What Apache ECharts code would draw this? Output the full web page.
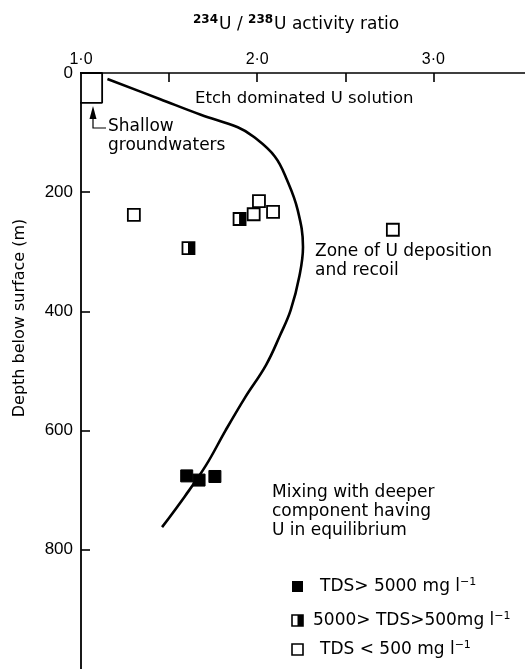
<!DOCTYPE html>
<html><head><meta charset="utf-8">
<script src="https://cdn.jsdelivr.net/npm/echarts@6/dist/echarts.min.js"></script>
<style>html,body{margin:0;padding:0;background:#fff}#c{width:525px;height:669px}</style>
</head><body><div id="c"></div>
<script>
var xTicks = [1.0, 2.0, 3.0];
var xMinorTicks = [1.5, 2.0, 2.5, 3.0];
var yTicks = [0, 200, 400, 600, 800];
var yTickMarks = [200, 400, 600, 800];
// curve: [ratio, depth]
var curveRatio = [1.15, 1.45, 1.68, 1.89, 1.98, 2.10, 2.17, 2.23, 2.26, 2.24, 2.19, 2.13, 2.05, 1.93, 1.82, 1.71, 1.59, 1.46];
var curveDepth = [10, 44, 70, 91, 107, 140, 180, 230, 292, 340, 398, 440, 490, 545, 600, 658, 710, 762];
// shallow groundwater box
var boxRatio = [0.955, 1.12, 1.12, 0.955, 0.955];
var boxDepth = [0, 0, 50, 50, 0];
// TDS < 500
var lowRatio = [1.30, 2.01, 1.98, 2.09, 2.77];
var lowDepth = [238, 215, 237, 233, 263];
// 5000 > TDS > 500
var midRatio = [1.90, 1.61];
var midDepth = [245, 294];
// TDS > 5000
var highRatio = [1.60, 1.67, 1.76];
var highDepth = [676, 683, 677];

function zip(a, b) { return a.map(function (v, i) { return [v, b[i]]; }); }

var chart = echarts.init(document.getElementById('c'), null, {renderer: 'canvas'});
var F = 'DejaVu Sans, Liberation Sans, sans-serif';
var FL = 'Liberation Sans, Arial, sans-serif';
var sq = 12;

function halfRender(params, api) {
  var p = api.coord([api.value(0), api.value(1)]);
  var s = 12;
  return {type: 'group', children: [
    {type: 'rect', shape: {x: p[0] - s / 2, y: p[1] - s / 2, width: s, height: s}, style: {fill: '#fff', stroke: '#000', lineWidth: 1.8}},
    {type: 'rect', shape: {x: p[0] - 0.5, y: p[1] - s / 2, width: s / 2 + 0.5, height: s}, style: {fill: '#000'}}
  ]};
}
var supR = {fontSize: 11, fontFamily: F, verticalAlign: 'top', padding: [0, 0, 9, 0]};
var supB = {fontSize: 12, fontFamily: F, fontWeight: 'bold', verticalAlign: 'top', padding: [0, 1, 9, 0]};
var nR = {fontSize: 17, fontFamily: F};

chart.setOption({
  animation: false,
  grid: {left: 81, top: 73, right: 0, bottom: 0},
  xAxis: {
    type: 'value', position: 'top', min: 1.0, max: 3.52,
    axisLine: {show: true, lineStyle: {color: '#000', width: 1.6}},
    axisTick: {show: true, inside: true, length: 9, customValues: xMinorTicks, lineStyle: {color: '#000', width: 1.6}},
    axisLabel: {show: true, margin: 5, color: '#000', fontFamily: FL, fontSize: 16, customValues: xTicks,
      formatter: function (v) { return v.toFixed(1).replace('.', '\u00b7'); }},
    splitLine: {show: false}
  },
  yAxis: {
    type: 'value', inverse: true, min: 0, max: 1000,
    axisLine: {show: true, lineStyle: {color: '#000', width: 1.8}},
    axisTick: {show: true, inside: true, length: 9, customValues: yTickMarks, lineStyle: {color: '#000', width: 1.6}},
    axisLabel: {color: '#000', fontFamily: FL, fontSize: 17, margin: 8, customValues: yTicks,
      formatter: function (v) { return String(v); }},
    splitLine: {show: false}
  },
  series: [
    {type: 'line', data: zip(boxRatio, boxDepth), symbol: 'none', clip: false,
      lineStyle: {color: '#000', width: 1.8}},
    {type: 'line', data: zip(curveRatio, curveDepth), symbol: 'none', smooth: 0.4,
      lineStyle: {color: '#000', width: 2.6}},
    {type: 'scatter', data: zip(lowRatio, lowDepth), symbol: 'rect', symbolSize: sq,
      itemStyle: {color: '#fff', borderColor: '#000', borderWidth: 1.8, opacity: 1}},
    {type: 'custom', data: zip(midRatio, midDepth), renderItem: halfRender},
    {type: 'scatter', data: zip(highRatio, highDepth), symbol: 'rect', symbolSize: sq,
      itemStyle: {color: '#000', borderColor: '#000', borderWidth: 1, opacity: 1}}
  ],
  graphic: [
    {type: 'text', left: 193, top: 14, style: {rich: {sup: supB, n: nR},
      text: '{sup|234}{n|U / }{sup|238}{n|U activity ratio}', fill: '#000'}},
    {type: 'text', x: 20, y: 318, rotation: Math.PI / 2, style: {text: 'Depth below surface (m)', font: '16px ' + F, fill: '#000', align: 'center', verticalAlign: 'middle'}},
    {type: 'text', left: 195, top: 90, style: {text: 'Etch dominated U solution', font: '16.5px ' + F, fill: '#000'}},
    {type: 'text', left: 108, top: 117, style: {text: 'Shallow\ngroundwaters', font: '17px ' + F, fill: '#000', lineHeight: 19}},
    {type: 'polyline', shape: {points: [[93, 115], [93, 128], [106, 128]]}, style: {stroke: '#000', lineWidth: 1.2, fill: null}},
    {type: 'polygon', shape: {points: [[93, 106], [89.5, 119], [96.5, 119]]}, style: {fill: '#000'}},
    {type: 'text', left: 315, top: 242, style: {text: 'Zone of U deposition\nand recoil', font: '17px ' + F, fill: '#000', lineHeight: 19}},
    {type: 'text', left: 272, top: 483, style: {text: 'Mixing with deeper\ncomponent having\nU in equilibrium', font: '17px ' + F, fill: '#000', lineHeight: 19}},
    {type: 'rect', shape: {x: 292, y: 581, width: 11, height: 11}, style: {fill: '#000'}},
    {type: 'text', left: 320, top: 577, style: {rich: {a: nR, s: supR},
      text: '{a|TDS> 5000 mg l}{s|−1}', fill: '#000'}},
    {type: 'rect', shape: {x: 292, y: 615, width: 11, height: 11}, style: {fill: '#fff', stroke: '#000', lineWidth: 1.6}},
    {type: 'rect', shape: {x: 297.5, y: 615, width: 5.5, height: 11}, style: {fill: '#000'}},
    {type: 'text', left: 313, top: 611, style: {rich: {a: nR, s: supR},
      text: '{a|5000> TDS>500mg l}{s|−1}', fill: '#000'}},
    {type: 'rect', shape: {x: 292, y: 644, width: 11, height: 11}, style: {fill: '#fff', stroke: '#000', lineWidth: 1.6}},
    {type: 'text', left: 320, top: 640, style: {rich: {a: nR, s: supR},
      text: '{a|TDS < 500 mg l}{s|−1}', fill: '#000'}}
  ]
});
</script></body></html>
